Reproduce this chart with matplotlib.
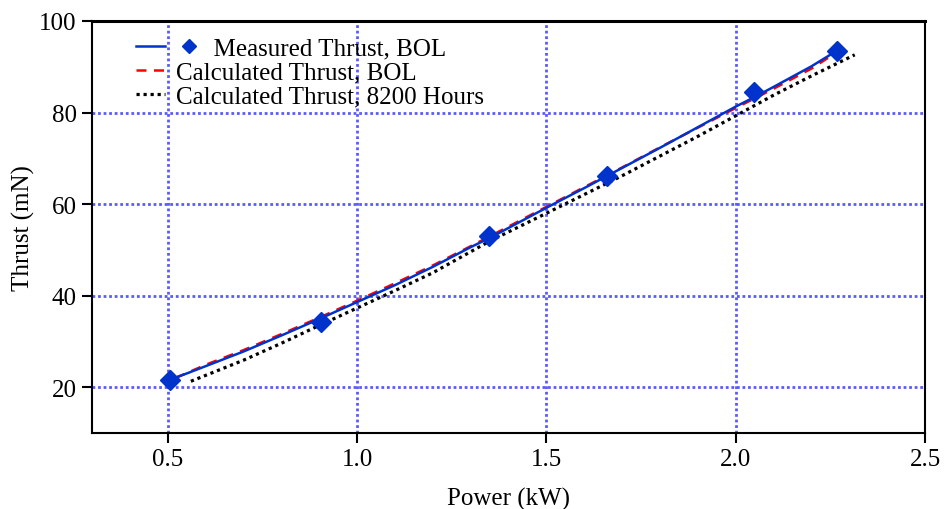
import matplotlib
matplotlib.use("Agg")
import matplotlib.pyplot as plt
from matplotlib.lines import Line2D
from matplotlib.legend_handler import HandlerBase

plt.rcParams['font.family'] = ['Liberation Serif', 'DejaVu Serif']
plt.rcParams['font.size'] = 18

# measured points (diamonds)
meas_power = [0.505, 0.905, 1.349, 1.660, 2.049, 2.268]
meas_thrust = [21.5, 34.2, 53.0, 66.1, 84.5, 93.4]

# measured thrust curve, BOL
bol_power = [0.50, 0.55, 0.60, 0.70, 0.80, 0.90, 1.00, 1.10, 1.20, 1.30, 1.35,
             1.40, 1.50, 1.60, 1.70, 1.80, 1.90, 2.00, 2.05, 2.10, 2.20, 2.265]
bol_thrust = [21.5, 23.0, 24.6, 27.8, 31.3, 34.9, 38.6, 42.3, 46.3, 50.6, 52.6,
              54.8, 59.2, 63.5, 67.9, 72.3, 76.8, 81.3, 83.4, 85.6, 90.1, 93.4]

# calculated thrust, BOL
calc_power = [0.52, 0.60, 0.70, 0.80, 0.90, 1.00, 1.10, 1.20, 1.30, 1.40, 1.50,
              1.60, 1.70, 1.80, 1.90, 2.00, 2.10, 2.20, 2.256]
calc_thrust = [22.0, 24.9, 28.1, 31.6, 35.2, 38.9, 42.7, 46.6, 50.8, 55.1, 59.4,
               63.7, 68.0, 72.4, 76.7, 81.0, 85.2, 89.6, 92.6]

# calculated thrust, 8200 hours
h8200_power = [0.561, 0.70, 0.80, 0.90, 1.00, 1.10, 1.20, 1.35, 1.50, 1.70,
               1.90, 2.00, 2.10, 2.20, 2.314]
h8200_thrust = [21.3, 25.9, 29.6, 33.5, 37.3, 41.1, 45.0, 51.9, 58.0, 66.2,
                74.8, 79.3, 83.8, 88.0, 92.6]

blue = '#0033cc'
grid_blue = '#5a5aff'
dots = (0, (1.0, 1.2))
dashes = (0, (4, 3))


class LineThenDiamond(HandlerBase):
    def create_artists(self, legend, orig_handle, xdescent, ydescent,
                       width, height, fontsize, trans):
        ln, mk = orig_handle
        y = height / 2 - ydescent
        a = Line2D([-xdescent, width - xdescent], [y, y], color=ln.get_color(),
                   lw=ln.get_linewidth())
        b = Line2D([width - xdescent + 0.95 * fontsize], [y], marker='D',
                   color=mk.get_color(), markersize=7.5, linestyle='none')
        a.set_transform(trans)
        b.set_transform(trans)
        return [a, b]


fig = plt.figure(figsize=(9.45, 5.1), dpi=100)
ax = fig.add_axes([0.0974, 0.149, 0.8816, 0.808])

ax.plot(h8200_power, h8200_thrust, color='black', linestyle=dots, lw=2.3)
ax.plot(calc_power, calc_thrust, color='red', linestyle=dashes, lw=1.8)
l_meas, = ax.plot(bol_power, bol_thrust, color=blue, lw=1.8)
m_meas, = ax.plot(meas_power, meas_thrust, 'D', color=blue, markersize=10.5,
                  linestyle='none')

ax.set_xlim(0.3, 2.5)
ax.set_ylim(10, 100)
ax.set_xticks([0.5, 1.0, 1.5, 2.0, 2.5])
ax.set_xticklabels(['0.5', '1.0', '1.5', '2.0', '2.5'])
ax.set_yticks([20, 40, 60, 80, 100])

for v in [0.5, 1.0, 1.5, 2.0]:
    ax.axvline(v, color=grid_blue, linestyle=(0, (1, 1)), lw=2.0, zorder=0)
for v in [20, 40, 60, 80]:
    ax.axhline(v, color=grid_blue, linestyle=(0, (1, 1)), lw=2.0, zorder=0)

for s in ax.spines.values():
    s.set_linewidth(1.5)
ax.spines['top'].set_linewidth(2.2)
ax.tick_params(direction='out', length=7, width=1.5, pad=4)

ax.set_xlabel('Power (kW)', labelpad=12)
ax.set_ylabel('Thrust (mN)', labelpad=3)

h_calc = Line2D([], [], color='red', linestyle=dashes, lw=1.8)
h_8200 = Line2D([], [], color='black', linestyle=dots, lw=2.3)
ax.legend([(l_meas, m_meas), h_calc, h_8200],
          ['      Measured Thrust, BOL', 'Calculated Thrust, BOL',
           'Calculated Thrust, 8200 Hours'],
          handler_map={tuple: LineThenDiamond()},
          loc='upper left', bbox_to_anchor=(0.035, 0.997), frameon=False,
          handlelength=1.15, handletextpad=0.45, labelspacing=0.06,
          borderaxespad=0.2)

fig.savefig('out.png', dpi=100)
